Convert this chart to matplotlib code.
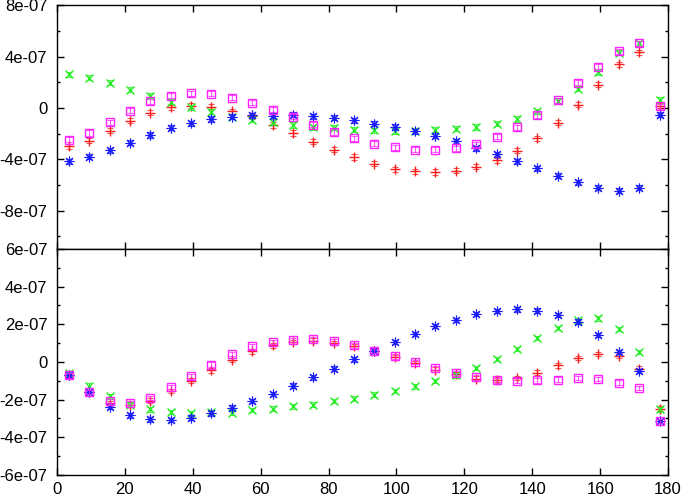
import numpy as np
import matplotlib
matplotlib.use("Agg")
import matplotlib.pyplot as plt
from matplotlib.ticker import MultipleLocator, FuncFormatter

plt.rcParams['font.family'] = ['Liberation Sans', 'DejaVu Sans']

# bin centres (degrees)
angle = [3.5, 9.5, 15.5, 21.5, 27.5, 33.5, 39.5, 45.5, 51.5, 57.5,
         63.5, 69.5, 75.5, 81.5, 87.5, 93.5, 99.5, 105.5, 111.5, 117.5,
         123.5, 129.5, 135.5, 141.5, 147.5, 153.5, 159.5, 165.5, 171.5, 177.5]

# top panel, units of 1e-07
top_red = [-3.0, -2.56, -1.77, -0.99, -0.39, 0.05, 0.18, 0.08, -0.25, -0.65,
           -1.33, -1.96, -2.63, -3.26, -3.83, -4.35, -4.77, -4.95, -5.0, -4.9,
           -4.59, -4.09, -3.34, -2.35, -1.17, 0.26, 1.8, 3.39, 4.35, 0.18]
top_green = [2.61, 2.35, 1.96, 1.43, 0.96, 0.47, 0.05, -0.29, -0.7, -0.91,
             -1.1, -1.33, -1.51, -1.56, -1.69, -1.75, -1.83, -1.8, -1.69, -1.62,
             -1.49, -1.23, -0.86, -0.26, 0.57, 1.51, 2.79, 4.3, 5.03, 0.63]
top_blue = [-4.17, -3.81, -3.29, -2.71, -2.11, -1.56, -1.2, -0.86, -0.68, -0.57,
            -0.6, -0.52, -0.65, -0.78, -0.96, -1.23, -1.49, -1.83, -2.16, -2.61,
            -3.13, -3.6, -4.17, -4.69, -5.27, -5.79, -6.23, -6.44, -6.21, -0.52]
top_magenta = [-2.48, -1.96, -1.12, -0.21, 0.52, 0.96, 1.15, 1.12, 0.81, 0.39,
               -0.13, -0.7, -1.3, -1.88, -2.35, -2.79, -3.08, -3.26, -3.26, -3.13,
               -2.82, -2.24, -1.51, -0.55, 0.6, 1.96, 3.23, 4.43, 5.03, 0.13]

# bottom panel, units of 1e-07
bot_red = [-0.7, -1.6, -2.17, -2.26, -2.05, -1.55, -0.99, -0.44, 0.11, 0.56,
           0.88, 1.06, 1.13, 1.0, 0.83, 0.6, 0.25, -0.07, -0.41, -0.63,
           -0.88, -0.93, -0.85, -0.56, -0.18, 0.21, 0.42, 0.34, -0.35, -2.47]
bot_green = [-0.58, -1.25, -1.82, -2.26, -2.52, -2.66, -2.7, -2.68, -2.7, -2.56,
             -2.47, -2.36, -2.26, -2.08, -1.94, -1.73, -1.55, -1.3, -1.02, -0.71,
             -0.32, 0.16, 0.69, 1.27, 1.8, 2.24, 2.31, 1.76, 0.53, -2.52]
bot_blue = [-0.71, -1.6, -2.4, -2.84, -3.05, -3.09, -2.96, -2.73, -2.43, -2.08,
            -1.69, -1.25, -0.81, -0.35, 0.14, 0.6, 1.06, 1.48, 1.92, 2.24,
            2.54, 2.72, 2.8, 2.73, 2.49, 2.15, 1.43, 0.53, -0.49, -3.14]
bot_magenta = [-0.71, -1.6, -2.08, -2.19, -1.9, -1.34, -0.76, -0.14, 0.42, 0.83,
               1.06, 1.18, 1.22, 1.09, 0.88, 0.6, 0.3, 0.0, -0.32, -0.58,
               -0.81, -0.97, -0.99, -0.97, -0.93, -0.86, -0.9, -1.09, -1.39, -3.14]

err_top = 0.2
err_bot = 0.12
scale = 1e-07

# colour, marker, size, edge width
styles = [("#ff1a1a", "+", 7, 1.0), ("#22ee22", "x", 6, 1.0),
          ("#1a1aff", (8, 2, 0), 7, 0.8), ("#ff22ff", "s", 6, 1.0)]


def sci(v, pos):
    if abs(v) < 1e-12:
        return "0"
    return "%.0e" % v


def draw(ax, series, err):
    x = np.array(angle)
    for (c, m, ms, mw), ys in zip(styles, series):
        y = np.array(ys) * scale
        ax.errorbar(x, y, yerr=err * scale, fmt="none", ecolor=c, elinewidth=0.8,
                    capsize=2, capthick=0.8, alpha=0.75)
        if m == "s":
            ax.plot(x, y, ls="none", marker=m, ms=ms, mfc="none", mec=c, mew=mw)
        else:
            ax.plot(x, y, ls="none", marker=m, ms=ms, color=c, mew=mw)
    ax.set_xlim(0, 180)
    ax.xaxis.set_major_locator(MultipleLocator(20))
    ax.yaxis.set_major_formatter(FuncFormatter(sci))
    ax.tick_params(which="both", direction="in", top=True, right=True, labelsize=12)
    ax.tick_params(axis="y", pad=7)
    ax.tick_params(axis="x", pad=5)
    ax.tick_params(which="major", length=5, width=1)
    ax.tick_params(which="minor", length=2.5, width=1)
    for s in ax.spines.values():
        s.set_linewidth(1.0)


fig = plt.figure(figsize=(6.82, 4.98), dpi=100)
ax1 = fig.add_axes([0.0836, 0.5, 0.8959, 0.4893])
ax2 = fig.add_axes([0.0836, 0.0462, 0.8959, 0.4538])

draw(ax1, [top_red, top_green, top_blue, top_magenta], err_top)
ax1.set_ylim(-1.1e-06, 8e-07)
ax1.yaxis.set_major_locator(MultipleLocator(4e-07))
ax1.yaxis.set_minor_locator(MultipleLocator(2e-07))
ax1.tick_params(labelbottom=False)

draw(ax2, [bot_red, bot_green, bot_blue, bot_magenta], err_bot)
ax2.set_ylim(-6e-07, 6e-07)
ax2.yaxis.set_major_locator(MultipleLocator(2e-07))
ax2.yaxis.set_minor_locator(MultipleLocator(1e-07))

fig.savefig("out.png", dpi=100)
